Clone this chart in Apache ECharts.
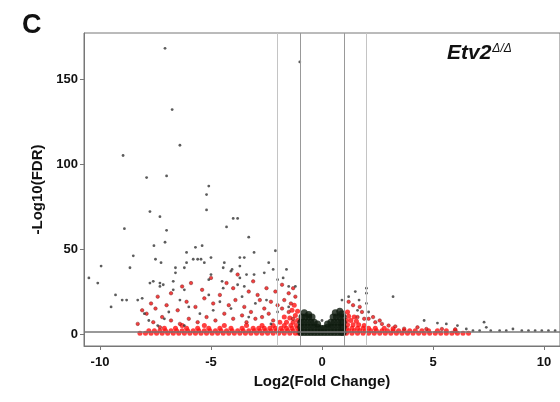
<!DOCTYPE html>
<html>
<head>
<meta charset="utf-8">
<script src="https://cdn.jsdelivr.net/npm/echarts@6/dist/echarts.min.js"></script>
<style>
  html, body { margin: 0; padding: 0; background: #fff; }
  #chart { width: 560px; height: 402px; }
</style>
</head>
<body>
<div id="chart"></div>
<script>
// axis ticks and cut-offs
const tickX = [-10, -5, 0, 5, 10];
const tickY = [0, 50, 100, 150];
const foldCutoffs = [-2, -1, 1, 2];
const fdrCutoff = 1.3;

// dense band of significant genes near the baseline (red)
const bandRed = [
  [-8.2,0.5],[-7.95,0.5],[-7.7,0.5],[-7.45,0.5],[-7.2,0.5],[-6.95,0.5],[-6.7,0.5],[-6.45,0.5],[-6.2,0.5],[-5.95,0.5],
  [-5.7,0.5],[-5.45,0.5],[-5.2,0.5],[-4.95,0.5],[-4.7,0.5],[-4.45,0.5],[-4.2,0.5],[-3.95,0.5],[-3.7,0.5],[-3.45,0.5],
  [-3.2,0.5],[-2.95,0.5],[-2.7,0.5],[-2.45,0.5],[-2.2,0.5],[-1.95,0.5],[-1.7,0.5],[-1.45,0.5],[-1.2,0.5],[-1.05,0.5],
  [-7.8,2],[-7.55,2],[-7.3,2],[-7.05,2],[-6.8,2],[-6.55,2],[-6.3,2],[-6.05,2],[-5.8,2],[-5.55,2],
  [-5.3,2],[-5.05,2],[-4.8,2],[-4.55,2],[-4.3,2],[-4.05,2],[-3.8,2],[-3.55,2],[-3.3,2],[-3.05,2],
  [-2.8,2],[-2.55,2],[-2.3,2],[-2.05,2],[-1.8,2],[-1.55,2],[-1.3,2],[-1.05,2],
  [-7.1,3.5],[-6.6,3.5],[-6.1,3.5],[-5.6,3.5],[-5.1,3.5],[-4.6,3.5],[-4.1,3.5],[-3.6,3.5],[-3.1,3.5],[-2.85,3.5],
  [-2.6,3.5],[-2.35,3.5],[-2.1,3.5],[-1.85,3.5],[-1.6,3.5],[-1.35,3.5],[-1.1,3.5],
  [-6.3,5],[-5.3,5],[-4.4,5],[-3.4,5],[-2.7,5],[-2.2,5],[-1.7,5],[-1.4,5],[-1.15,5],
  [-1.9,7],[-1.6,7],[-1.3,7],[-1.1,8],[-1.45,9.5],[-1.2,11],[-1.7,10],[-1.1,13.5],[-1.35,14],[-1.25,17],
  [1.1,0.5],[1.35,0.5],[1.6,0.5],[1.85,0.5],[2.1,0.5],[2.35,0.5],[2.6,0.5],[2.85,0.5],[3.1,0.5],[3.35,0.5],
  [3.6,0.5],[3.85,0.5],[4.1,0.5],[4.35,0.5],[4.6,0.5],[4.85,0.5],[5.1,0.5],[5.35,0.5],[5.6,0.5],[5.85,0.5],
  [6.1,0.5],[6.35,0.5],[6.6,0.5],
  [1.2,2],[1.45,2],[1.7,2],[1.95,2],[2.2,2],[2.45,2],[2.7,2],[2.95,2],[3.2,2],[3.45,2],
  [3.7,2],[3.95,2],[4.2,2],[4.5,2],[4.8,2],[5.2,2],[5.6,2],[6.0,1.8],
  [1.1,3.5],[1.35,3.5],[1.6,3.5],[1.85,3.5],[2.1,3.5],[2.4,3.5],[2.8,3.5],[3.2,3.2],
  [1.15,5.5],[1.4,5.5],[1.65,5.5],[1.9,5],[1.1,8],[1.3,8],[1.55,7.5],[1.2,10.5],[1.45,10],[1.15,13]
];

// scattered significant genes (red, dark rim)
const scatterRed = [
  [-1.3,9],[-2.2,8],[-1.5,13],[-1.8,15],[-2.4,12],[-2.7,10],[-3.0,9],[-3.4,7],[-1.4,18],[-1.7,20],
  [-2.0,17],[-2.3,19],[-2.6,15],[-1.2,22],[-1.5,24],[-2.8,20],[-3.2,13],[-3.6,11],[-4.0,9],[-4.4,12],
  [-4.8,8],[-5.2,10],[-5.6,7],[-6.0,9],[-6.4,6],[-6.8,8],[-7.2,10],[-7.6,7],[-7.9,12],[-7.5,15],
  [-7.0,17],[-6.5,14],[-6.1,19],[-5.7,16],[-5.3,21],[-4.9,18],[-4.6,23],[-4.2,17],[-3.9,20],[-3.5,16],
  [-3.3,25],[-2.9,23],[-2.5,27],[-2.1,25],[-1.8,29],[-1.3,27],[-6.8,24],[-6.3,28],[-5.9,30],[-5.4,26],
  [-5.0,33],[-4.3,30],[-3.8,35],[-3.1,31],[-7.4,22],[-7.7,18],[-8.1,14],[-4.0,27],[-8.3,6],[-7.3,4],
  [1.4,17],[1.7,16],[1.8,13],[1.2,19],[1.9,9],[1.6,10],[2.4,7],[2.7,6],[3.0,5],[2.1,9],
  [2.3,10],[2.6,8],[3.3,4.5],[4.3,4],[5.4,3],[6.0,2.8],[3.7,3.2],[4.7,3]
];

// not significant, |log2FC| < 1 (black)
const centerBlack = [
  [-0.95,1],[-0.8,1],[-0.65,1],[-0.5,1],[-0.35,1],[-0.2,1],[-0.05,1],[0.1,1],[0.25,1],[0.4,1],[0.55,1],[0.7,1],[0.85,1],[0.95,1],
  [-0.95,4],[-0.8,4],[-0.65,4],[-0.5,4],[-0.35,4],[-0.2,4],[-0.05,3.5],[0.1,3.5],[0.25,4],[0.4,4],[0.55,4],[0.7,4],[0.85,4],[0.95,4],
  [-0.95,7],[-0.8,7],[-0.65,7],[-0.5,7],[-0.35,7],[-0.2,6],[0.25,6],[0.4,7],[0.55,7],[0.7,7],[0.85,7],[0.95,7],
  [-0.9,10],[-0.75,10],[-0.6,10],[-0.45,10],[0.5,10],[0.65,10],[0.8,10],[0.95,10],
  [-0.8,12.5],[-0.6,11.5],[0.6,12.5],[0.8,13.5],[0.9,12]
];

// scattered genes drawn with dark dots
const darkDots = [
  [-7.07,168],[-6.75,132],[-6.4,111],[-8.96,105],[-7.9,92],[-7.0,93],[-5.1,87],[-5.2,82],[-5.2,73],[-7.75,72],
  [-7.3,69],[-4.3,63],[-4.0,68],[-3.8,68],[-8.9,62],[-7.0,61],[-3.3,57],[-7.07,54],[-7.57,52],[-6.1,48],
  [-5.7,51],[-5.4,52],[-2.1,49],[-8.5,46],[-5.0,45],[-7.5,44],[-7.25,42],[-5.8,44],[-5.45,44],[-5.3,42],
  [-6.1,42],[-3.7,45],[-2.4,42],[-3.06,48],[-8.65,39],[-6.6,39],[-4.45,39],[-4.05,38],[-1.6,38],[-6.6,36],
  [-5.0,35],[-3.4,35],[-3.06,35],[-9.95,40],[-10.5,33],[-10.1,30],[-7.75,30],[-7.3,30],[-7.15,29],[-6.7,31],
  [-6.2,26],[-5.1,32],[-4.45,27],[-3.8,29],[-3.5,28],[-2.0,32],[-1.75,33],[-1.5,28],[-1.2,28],[-9.3,23],
  [-9.5,16],[-9.0,20],[-8.8,20],[-8.3,20],[-8.1,21],[-7.6,31],[-7.3,28],[-6.7,26],[-4.1,37],[-4.5,31],
  [-3.7,33],[-8.0,12],[-7.8,8],[-7.4,5],[-6.9,13],[-6.0,16],[-5.5,12],[-4.9,14],[-4.1,15],[-3.6,22],
  [-3.0,18],[-2.5,20],[-2.0,13],[-1.5,16],[-6.4,20],[-5.1,23],[-4.6,19],[-7.1,9],[-6.2,5],[-3.3,10],
  [-2.3,6],[-1.0,160],[0.0,8],[-2.6,36],[-3.7,40],[-2.2,38],[-6.2,39],[-5.6,44],[-4.4,42],[-3.5,45],
  [3.2,22],[2.0,27],[2.0,24],[1.2,22],[0.9,20],[1.67,20],[1.5,25],[2.0,18],[1.6,14],[2.1,13],
  [4.6,8],[7.3,7],[5.2,6.5],[5.6,6],[6.1,5],[7.4,4],[6.5,3],[6.8,2],[7.1,2],[7.6,2],
  [8.0,2],[8.3,2],[8.6,3],[9.0,2],[9.3,2],[9.6,2],[9.9,2],[10.2,2],[10.5,2]
];

const chart = echarts.init(document.getElementById('chart'), null, { renderer: 'canvas' });

const fontFamily = 'Liberation Sans, Arial, sans-serif';
const boldFont = { fontFamily: fontFamily, fontWeight: 'bold', color: '#111' };

chart.setOption({
  animation: false,
  backgroundColor: '#fff',
  grid: { left: 84, top: 33, right: 0, bottom: 56, show: true, borderColor: '#777', borderWidth: 1 },
  xAxis: {
    type: 'value', min: -10.72, max: 10.72,
    splitLine: { show: false },
    axisLine: { show: true, onZero: false, lineStyle: { color: '#777' } },
    axisTick: { show: true, customValues: tickX, length: 4, lineStyle: { color: '#777' } },
    axisLabel: Object.assign({ customValues: tickX, fontSize: 13, margin: 10 }, boldFont),
    name: 'Log2(Fold Change)', nameLocation: 'middle', nameGap: 28,
    nameTextStyle: Object.assign({ fontSize: 15 }, boldFont)
  },
  yAxis: {
    type: 'value', min: -7, max: 177,
    splitLine: { show: false },
    axisLine: { show: true, onZero: false, lineStyle: { color: '#777' } },
    axisTick: { show: true, customValues: tickY, length: 4, lineStyle: { color: '#777' } },
    axisLabel: Object.assign({ customValues: tickY, fontSize: 13, margin: 6 }, boldFont),
    name: '-Log10(FDR)', nameLocation: 'middle', nameGap: 34, nameRotate: 90,
    nameTextStyle: Object.assign({ fontSize: 15 }, boldFont)
  },
  graphic: [
    { type: 'text', left: 22, top: 12, style: { text: 'C', fontSize: 27, fontFamily: fontFamily, fontWeight: 'bold', fill: '#111' } },
    {
      type: 'text', left: 447, top: 43,
      style: {
        text: '{a|Etv2}{b|Δ/Δ}',
        rich: {
          a: { fontSize: 21, fontStyle: 'italic', fontWeight: 'bold', fontFamily: fontFamily, fill: '#111', verticalAlign: 'bottom' },
          b: { fontSize: 12, fontStyle: 'italic', fontFamily: fontFamily, fill: '#111', verticalAlign: 'top', padding: [0, 0, 9, 1] }
        }
      }
    }
  ],
  series: [
    {
      type: 'scatter', name: 'band', data: bandRed, symbolSize: 5,
      itemStyle: { color: '#ff1010' },
      markLine: {
        silent: true, symbol: 'none', label: { show: false },
        lineStyle: { color: '#aaa', width: 1, type: 'solid' },
        data: foldCutoffs.map(v => ({ xAxis: v, lineStyle: { color: Math.abs(v) === 1 ? '#999' : '#c4c4c4' } }))
          .concat([{ yAxis: fdrCutoff, lineStyle: { color: '#777', width: 1.5 } }])
      }
    },
    { type: 'scatter', name: 'red', data: scatterRed, symbolSize: 3.5, itemStyle: { color: '#f01010', borderColor: '#7a2020', borderWidth: 0.6 } },
    { type: 'scatter', name: 'ns', data: centerBlack, symbolSize: 7, itemStyle: { color: '#0e1a0e' } },
    { type: 'scatter', name: 'dots', data: darkDots, symbolSize: 2.8, itemStyle: { color: '#333' } }
  ]
});
</script>
</body>
</html>
